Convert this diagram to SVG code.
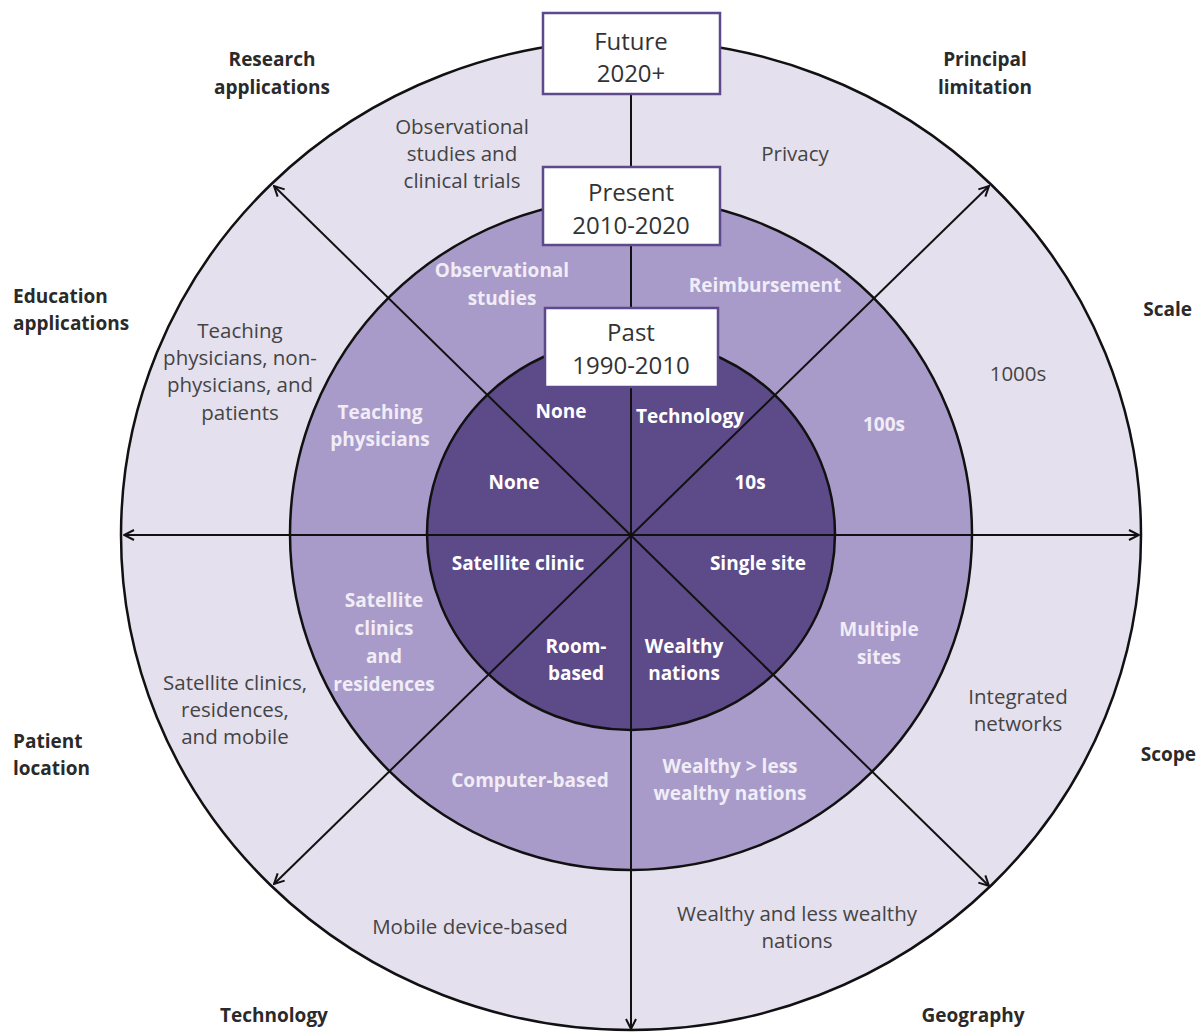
<svg xmlns="http://www.w3.org/2000/svg" width="1197" height="1033" viewBox="0 0 1197 1033">
<style>
text{font-family:"Open Sans",Lato,"Liberation Sans",sans-serif;text-anchor:middle;dominant-baseline:central}
.axis{font-size:19px;font-weight:bold;fill:#2a2a2a}
.outer{font-size:20.5px;fill:#444}
.mid{font-size:19px;font-weight:bold;fill:#f1edf7}
.inn{font-size:19px;font-weight:bold;fill:#fff}
.box{fill:#fff;stroke:#5e4a8a;stroke-width:2.5}
.boxt{font-size:24px;fill:#333}
.ln{stroke:#111;stroke-width:2;fill:none}
.ring{stroke:#111;stroke-width:2.5}
</style>
<defs>
<marker id="ah" viewBox="0 0 12 12" refX="11" refY="6" markerWidth="12" markerHeight="12" markerUnits="userSpaceOnUse" orient="auto-start-reverse">
<path d="M1,1 L11,6 L1,11" fill="none" stroke="#111" stroke-width="2"/>
</marker>
</defs>
<rect width="1197" height="1033" fill="#fff"/>
<g id="ring-future"><ellipse cx="631" cy="535" rx="510" ry="495" fill="#e5e0ee" class="ring"/></g>
<g id="ring-present"><ellipse cx="631" cy="534" rx="341" ry="336" fill="#a99bc9" class="ring"/></g>
<g id="ring-past"><ellipse cx="631" cy="534" rx="204" ry="196" fill="#5d4a88" class="ring"/></g>
<g id="connectors">
<line class="ln" x1="124" y1="535" x2="1139" y2="535" marker-start="url(#ah)" marker-end="url(#ah)"/>
<line class="ln" x1="631" y1="93" x2="631" y2="1029" marker-end="url(#ah)"/>
<line class="ln" x1="274" y1="186" x2="989" y2="886" marker-start="url(#ah)" marker-end="url(#ah)"/>
<line class="ln" x1="989" y1="186" x2="274" y2="884" marker-start="url(#ah)" marker-end="url(#ah)"/>
</g>
<g id="box-future"><rect class="box" x="543" y="13" width="177" height="81"/><text class="boxt" x="631" y="40">Future</text><text class="boxt" x="631" y="72">2020+</text></g>
<g id="box-present"><rect class="box" x="543" y="167" width="177" height="78"/><text class="boxt" x="631" y="191">Present</text><text class="boxt" x="631" y="224">2010-2020</text></g>
<g id="box-past"><rect class="box" x="545" y="308" width="173" height="79"/><text class="boxt" x="631" y="331">Past</text><text class="boxt" x="631" y="364">1990-2010</text></g>
<g id="axis-labels">
<text class="axis" x="272" y="59">Research</text><text class="axis" x="272" y="87">applications</text>
<text class="axis" x="985" y="59">Principal</text><text class="axis" x="985" y="87">limitation</text>
<text class="axis" x="13" y="296" style="text-anchor:start">Education</text><text class="axis" x="13" y="323" style="text-anchor:start">applications</text>
<text class="axis" x="1192" y="309" style="text-anchor:end">Scale</text>
<text class="axis" x="13" y="741" style="text-anchor:start">Patient</text><text class="axis" x="13" y="768" style="text-anchor:start">location</text>
<text class="axis" x="1196" y="754" style="text-anchor:end">Scope</text>
<text class="axis" x="274" y="1015">Technology</text>
<text class="axis" x="973" y="1015">Geography</text>
</g>
<g id="future-texts">
<text class="outer" x="462" y="126">Observational</text><text class="outer" x="462" y="153">studies and</text><text class="outer" x="462" y="180">clinical trials</text>
<text class="outer" x="795" y="153">Privacy</text>
<text class="outer" x="240" y="330">Teaching</text><text class="outer" x="240" y="357">physicians, non-</text><text class="outer" x="240" y="384">physicians, and</text><text class="outer" x="240" y="412">patients</text>
<text class="outer" x="1018" y="373">1000s</text>
<text class="outer" x="235" y="682">Satellite clinics,</text><text class="outer" x="235" y="709">residences,</text><text class="outer" x="235" y="736">and mobile</text>
<text class="outer" x="1018" y="696">Integrated</text><text class="outer" x="1018" y="723">networks</text>
<text class="outer" x="470" y="926">Mobile device-based</text>
<text class="outer" x="797" y="913">Wealthy and less wealthy</text><text class="outer" x="797" y="940">nations</text>
</g>
<g id="present-texts">
<text class="mid" x="502" y="270">Observational</text><text class="mid" x="502" y="298">studies</text>
<text class="mid" x="765" y="285">Reimbursement</text>
<text class="mid" x="380" y="412">Teaching</text><text class="mid" x="380" y="439">physicians</text>
<text class="mid" x="884" y="424">100s</text>
<text class="mid" x="384" y="600">Satellite</text><text class="mid" x="384" y="628">clinics</text><text class="mid" x="384" y="656">and</text><text class="mid" x="384" y="684">residences</text>
<text class="mid" x="879" y="629">Multiple</text><text class="mid" x="879" y="657">sites</text>
<text class="mid" x="530" y="780">Computer-based</text>
<text class="mid" x="730" y="766">Wealthy &gt; less</text><text class="mid" x="730" y="793">wealthy nations</text>
</g>
<g id="past-texts">
<text class="inn" x="561" y="411">None</text>
<text class="inn" x="690" y="416">Technology</text>
<text class="inn" x="514" y="482">None</text>
<text class="inn" x="750" y="482">10s</text>
<text class="inn" x="518" y="563">Satellite clinic</text>
<text class="inn" x="758" y="563">Single site</text>
<text class="inn" x="576" y="646">Room-</text><text class="inn" x="576" y="673">based</text>
<text class="inn" x="684" y="646">Wealthy</text><text class="inn" x="684" y="673">nations</text>
</g>
</svg>
